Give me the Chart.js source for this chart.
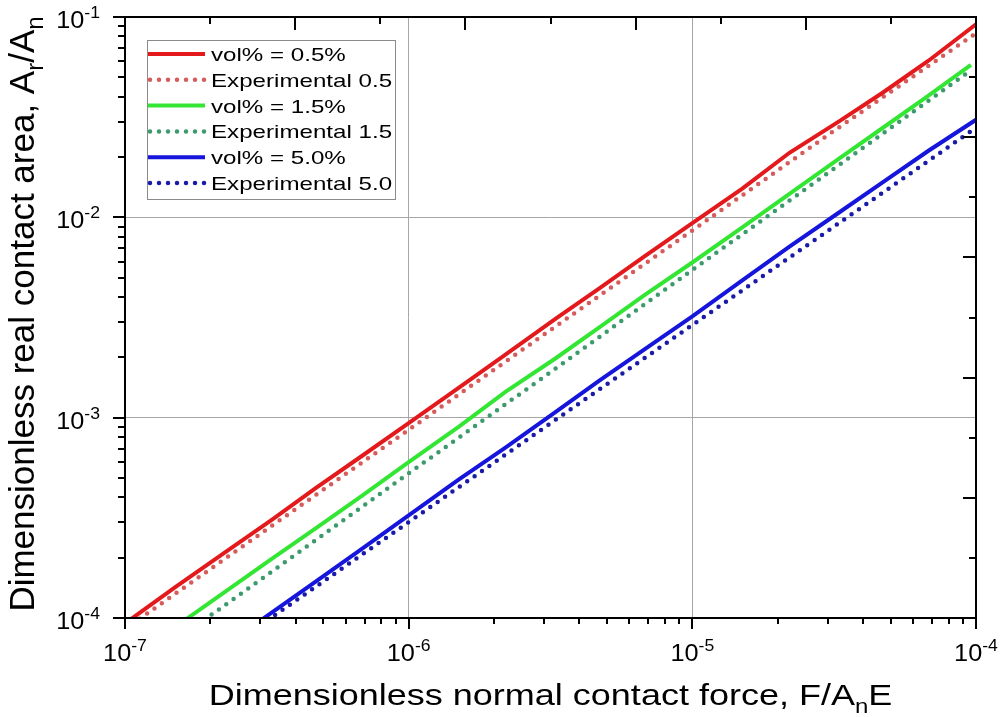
<!DOCTYPE html>
<html>
<head>
<meta charset="utf-8">
<script src="https://cdn.jsdelivr.net/npm/chart.js@4.4.1/dist/chart.umd.min.js"></script>
<style>
  body { margin: 0; background: #fff; }
  #wrap { width: 1001px; height: 717px; }
</style>
</head>
<body>
<div id="wrap"><canvas id="contact-chart" width="1001" height="717"></canvas></div>
<script>
// simulation: real contact area vs. normal force for each filler fraction
const forceSim05 = [1e-7, 1.5e-7, 2.2e-7, 3.3e-7, 4.7e-7, 6.8e-7, 1e-6, 1.5e-6, 2.2e-6, 3.3e-6, 4.7e-6, 6.8e-6, 1e-5, 1.5e-5, 2.2e-5, 3.3e-5, 4.7e-5, 6.8e-5, 1e-4];
const areaSim05 = [9.4e-5, 1.42e-4, 2.08e-4, 3.1e-4, 4.45e-4, 6.4e-4, 9.4e-4, 1.41e-3, 2.07e-3, 3.12e-3, 4.42e-3, 6.4e-3, 9.35e-3, 1.39e-2, 2.1e-2, 3.02e-2, 4.2e-2, 6.05e-2, 9.2e-2];

const forceSim15 = [1.5e-7, 2.2e-7, 3.3e-7, 4.7e-7, 6.8e-7, 1e-6, 1.5e-6, 2.2e-6, 3.3e-6, 4.7e-6, 6.8e-6, 1e-5, 1.5e-5, 2.2e-5, 3.3e-5, 4.7e-5, 6.8e-5, 9.6e-5];
const areaSim15 = [9.0e-5, 1.32e-4, 1.98e-4, 2.8e-4, 4.05e-4, 6.0e-4, 9.0e-4, 1.35e-3, 1.98e-3, 2.82e-3, 4.1e-3, 5.95e-3, 8.9e-3, 1.31e-2, 1.97e-2, 2.8e-2, 4.05e-2, 5.77e-2];

const forceSim50 = [3e-7, 4.7e-7, 6.8e-7, 1e-6, 1.5e-6, 2.2e-6, 3.3e-6, 4.7e-6, 6.8e-6, 1e-5, 1.5e-5, 2.2e-5, 3.3e-5, 4.7e-5, 6.8e-5, 1e-4];
const areaSim50 = [9.7e-5, 1.52e-4, 2.2e-4, 3.25e-4, 4.9e-4, 7.1e-4, 1.07e-3, 1.53e-3, 2.2e-3, 3.2e-3, 4.85e-3, 7.15e-3, 1.06e-2, 1.5e-2, 2.15e-2, 3.07e-2];

// experimental curves
const forceExp05 = [1e-7, 3e-7, 1e-6, 3e-6, 1e-5, 3e-5, 1e-4];
const areaExp05 = [8.8e-5, 2.63e-4, 8.7e-4, 2.6e-3, 8.6e-3, 2.57e-2, 8.3e-2];

const forceExp15 = [1.5e-7, 3e-7, 1e-6, 3e-6, 1e-5, 3e-5, 9.6e-5];
const areaExp15 = [7.7e-5, 1.55e-4, 5.27e-4, 1.6e-3, 5.46e-3, 1.66e-2, 5.42e-2];

const forceExp50 = [3e-7, 1e-6, 3e-6, 1e-5, 3e-5, 1e-4];
const areaExp50 = [9.2e-5, 3.01e-4, 8.9e-4, 2.9e-3, 8.55e-3, 2.8e-2];

const seriesLabels = ['vol% = 0.5%', 'Experimental 0.5', 'vol% = 1.5%', 'Experimental 1.5', 'vol% = 5.0%', 'Experimental 5.0'];

const FONT = '"Liberation Sans", Arial, Helvetica, sans-serif';
const DOTS = [0, 9];

const toPoints = (xs, ys) => xs.map((v, i) => ({ x: v, y: ys[i] }));

const solid = (label, xs, ys, color) => ({
    label: label,
    data: toPoints(xs, ys),
    borderColor: color,
    borderWidth: 4,
    borderCapStyle: 'butt',
    showLine: true,
    pointRadius: 0,
    clip: 0,
});

const dotted = (label, xs, ys, color) => ({
    label: label,
    data: toPoints(xs, ys),
    borderColor: color,
    borderWidth: 4.5,
    borderDash: DOTS,
    borderCapStyle: 'round',
    showLine: true,
    pointRadius: 0,
    clip: 0,
});

// text runs with superscript / subscript parts, optionally stretched sideways
const drawRich = (ctx, runs, x, y, size, stretch, align) => {
    const small = Math.round(size * 0.68);
    ctx.save();
    ctx.textBaseline = 'alphabetic';
    ctx.textAlign = 'left';
    ctx.fillStyle = '#000';
    const widths = runs.map(r => {
        ctx.font = `${(r.sub || r.sup) ? small : size}px ${FONT}`;
        return ctx.measureText(r.t).width;
    });
    const total = widths.reduce((a, b) => a + b, 0);
    ctx.translate(x, y);
    ctx.scale(stretch, 1);
    let cx = align === 'center' ? -total / 2 : (align === 'right' ? -total : 0);
    runs.forEach((r, i) => {
        ctx.font = `${(r.sub || r.sup) ? small : size}px ${FONT}`;
        const dy = r.sup ? -size * 0.43 : (r.sub ? size * 0.25 : 0);
        ctx.fillText(r.t, cx, dy);
        cx += widths[i];
    });
    ctx.restore();
};

const isDecade = v => {
    const l = Math.log10(v);
    return Math.abs(l - Math.round(l)) < 1e-9;
};

// ticks, frame, decade labels, axis titles and legend
const frameTicks = {
    id: 'frameTicks',
    afterDatasetsDraw(chart) {
        const { ctx, chartArea: a, scales: { x, y } } = chart;
        ctx.save();
        ctx.strokeStyle = '#000';
        ctx.lineWidth = 2;
        ctx.lineCap = 'butt';

        const logValues = (min, max) => {
            const out = [];
            for (let e = Math.floor(Math.log10(min)); e <= Math.ceil(Math.log10(max)); e++) {
                for (let m = 1; m <= 9; m++) {
                    const v = m * Math.pow(10, e);
                    if (v >= min * 0.999 && v <= max * 1.001) out.push(v);
                }
            }
            return out;
        };

        ctx.beginPath();
        logValues(x.min, x.max).forEach(v => {
            const px = Math.round(x.getPixelForValue(v));
            const len = isDecade(v) ? 11 : 6;
            ctx.moveTo(px, a.bottom);
            ctx.lineTo(px, a.bottom + len);
        });
        logValues(y.min, y.max).forEach(v => {
            const py = Math.round(y.getPixelForValue(v));
            const len = isDecade(v) ? 12 : 7;
            ctx.moveTo(a.left - len, py);
            ctx.lineTo(a.left, py);
        });
        // opposite axes carry plain evenly spaced inward ticks
        for (let i = 1; i < 10; i++) {
            const len = i % 2 === 0 ? 13 : 7;
            const px = Math.round(a.left + (a.right - a.left) * i / 10);
            const py = Math.round(a.top + (a.bottom - a.top) * i / 10);
            ctx.moveTo(px, a.top);
            ctx.lineTo(px, a.top + len);
            ctx.moveTo(a.right - len, py);
            ctx.lineTo(a.right, py);
        }
        ctx.stroke();
        ctx.strokeRect(a.left, a.top, a.right - a.left, a.bottom - a.top);

        // decade labels
        logValues(x.min, x.max).filter(isDecade).forEach(v => {
            const exp = String(Math.round(Math.log10(v)));
            drawRich(ctx, [{ t: '10' }, { t: exp, sup: true }], x.getPixelForValue(v), a.bottom + 43, 23, 1.1, 'center');
        });
        logValues(y.min, y.max).filter(isDecade).forEach(v => {
            const exp = String(Math.round(Math.log10(v)));
            drawRich(ctx, [{ t: '10' }, { t: exp, sup: true }], a.left - 25, y.getPixelForValue(v) + 11, 23, 1.1, 'right');
        });

        // axis titles
        drawRich(ctx, [{ t: 'Dimensionless normal contact force, F/A' }, { t: 'n', sub: true }, { t: 'E' }],
            (a.left + a.right) / 2, 705, 30, 1.2, 'center');
        ctx.save();
        ctx.translate(34, 314);
        ctx.rotate(-Math.PI / 2);
        drawRich(ctx, [{ t: 'Dimensionless real contact area, A' }, { t: 'r', sub: true }, { t: '/A' }, { t: 'n', sub: true }],
            0, 0, 35, 1, 'center');
        ctx.restore();

        // legend box
        const box = { left: 147, top: 40, width: 248, height: 159 };
        ctx.fillStyle = '#fff';
        ctx.fillRect(box.left, box.top, box.width, box.height);
        ctx.lineWidth = 1;
        ctx.strokeStyle = '#8a8a8a';
        ctx.strokeRect(box.left + 0.5, box.top + 0.5, box.width, box.height);
        chart.data.datasets.forEach((ds, i) => {
            const rowY = box.top + 14 + i * 25.8;
            ctx.save();
            ctx.strokeStyle = ds.borderColor;
            ctx.lineWidth = ds.borderWidth;
            ctx.lineCap = ds.borderCapStyle;
            ctx.setLineDash(ds.borderDash || []);
            ctx.beginPath();
            ctx.moveTo(ds.borderDash ? 150 : 148, rowY);
            ctx.lineTo(205, rowY);
            ctx.stroke();
            ctx.restore();
            drawRich(ctx, [{ t: ds.label }], 211, rowY + 7, 19, 1.27, 'left');
        });
        ctx.restore();
    }
};

const axisOptions = (min, max, fit) => ({
    type: 'logarithmic',
    min: min,
    max: max,
    ticks: { display: false },
    border: { display: false },
    grid: {
        drawTicks: false,
        lineWidth: 1,
        color: c => (c.tick && isDecade(c.tick.value)) ? '#a6a6a6' : 'rgba(0,0,0,0)',
    },
    afterFit: fit,
});

const contactChart = new Chart(document.getElementById('contact-chart'), {
    type: 'scatter',
    data: {
        datasets: [
            solid(seriesLabels[0], forceSim05, areaSim05, '#e3191c'),
            dotted(seriesLabels[1], forceExp05, areaExp05, '#d65c5c'),
            solid(seriesLabels[2], forceSim15, areaSim15, '#34e634'),
            dotted(seriesLabels[3], forceExp15, areaExp15, '#3c9a6c'),
            solid(seriesLabels[4], forceSim50, areaSim50, '#1515dc'),
            dotted(seriesLabels[5], forceExp50, areaExp50, '#1a1aa8'),
        ],
    },
    options: {
        responsive: false,
        animation: false,
        devicePixelRatio: 1,
        layout: { padding: { left: 125, top: 17, right: 25, bottom: 99 } },
        plugins: { legend: { display: false }, tooltip: { enabled: false } },
        scales: {
            x: axisOptions(1e-7, 1e-4, s => { s.height = 0; }),
            y: axisOptions(1e-4, 1e-1, s => { s.width = 0; }),
        },
    },
    plugins: [frameTicks],
});
</script>
</body>
</html>
